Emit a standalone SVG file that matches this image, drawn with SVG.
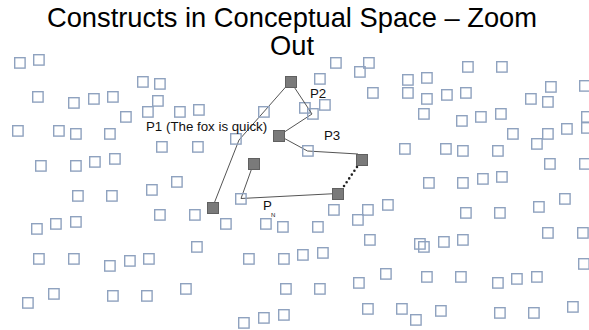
<svg xmlns="http://www.w3.org/2000/svg" xmlns:xlink="http://www.w3.org/1999/xlink" width="589" height="330" viewBox="0 0 589 330">
  <style>
    .c { fill: none; stroke: #8fa2bf; stroke-width: 1.4; }
    .f { fill: #7a7a7a; stroke: #606060; stroke-width: 1; }
    .ln { stroke: #555; stroke-width: 1; fill: none; }
    .dots { stroke: #222; stroke-width: 2.6; stroke-dasharray: 0 4.6; stroke-linecap: round; fill: none; }
    .title { font-family: "Liberation Sans", Arial, sans-serif; font-size: 27.3px; fill: #000; text-anchor: middle; }
    .lbl { font-family: "Liberation Sans", Arial, sans-serif; font-size: 13.3px; fill: #111; }
    .sub { font-family: "Liberation Sans", Arial, sans-serif; font-size: 6px; fill: #111; }
  </style>
  <defs>
    <rect id="sq" x="0.7" y="0.7" width="10.4" height="10.4" class="c"/>
    <rect id="fsq" x="0.5" y="0.5" width="11" height="11" class="f"/>
  </defs>
  <rect width="589" height="330" fill="#fff"/>

  <!-- heading -->
  <g id="title">
    <text class="title" x="292" y="27">Constructs in Conceptual Space – Zoom</text>
    <text class="title" x="292" y="54.5">Out</text>
  </g>

  <!-- scattered constructs -->
  <g id="field">
    <use id="c1" href="#sq" x="14" y="57"/>
    <use id="c2" href="#sq" x="33" y="54"/>
    <use id="c3" href="#sq" x="137" y="76"/>
    <use id="c4" href="#sq" x="154" y="78"/>
    <use id="c5" href="#sq" x="32" y="91"/>
    <use id="c6" href="#sq" x="68" y="97"/>
    <use id="c7" href="#sq" x="88" y="93"/>
    <use id="c8" href="#sq" x="107" y="91"/>
    <use id="c9" href="#sq" x="152" y="95"/>
    <use id="c10" href="#sq" x="142" y="106"/>
    <use id="c11" href="#sq" x="174" y="106"/>
    <use id="c12" href="#sq" x="193" y="104"/>
    <use id="c13" href="#sq" x="120" y="111"/>
    <use id="c15" href="#sq" x="330" y="57"/>
    <use id="c16" href="#sq" x="363" y="57"/>
    <use id="c17" href="#sq" x="354" y="66"/>
    <use id="c18" href="#sq" x="314" y="73"/>
    <use id="c19" href="#sq" x="367" y="87"/>
    <use id="c20" href="#sq" x="299" y="102"/>
    <use id="c22" href="#sq" x="319" y="99"/>
    <use id="c23" href="#sq" x="462" y="61"/>
    <use id="c24" href="#sq" x="496" y="61"/>
    <use id="c25" href="#sq" x="402" y="74"/>
    <use id="c26" href="#sq" x="421" y="72"/>
    <use id="c27" href="#sq" x="402" y="87"/>
    <use id="c28" href="#sq" x="421" y="93"/>
    <use id="c29" href="#sq" x="441" y="89"/>
    <use id="c30" href="#sq" x="460" y="87"/>
    <use id="c31" href="#sq" x="545" y="81"/>
    <use id="c32" href="#sq" x="579" y="80"/>
    <use id="c33" href="#sq" x="525" y="93"/>
    <use id="c34" href="#sq" x="542" y="96"/>
    <use id="c35" href="#sq" x="418" y="108"/>
    <use id="c36" href="#sq" x="456" y="115"/>
    <use id="c37" href="#sq" x="475" y="111"/>
    <use id="c38" href="#sq" x="495" y="108"/>
    <use id="c39" href="#sq" x="581" y="111"/>
    <use id="c40" href="#sq" x="581" y="122"/>
    <use id="c41" href="#sq" x="507" y="128"/>
    <use id="c42" href="#sq" x="542" y="128"/>
    <use id="c43" href="#sq" x="561" y="123"/>
    <use id="c44" href="#sq" x="531" y="138"/>
    <use id="c45" href="#sq" x="399" y="143"/>
    <use id="c46" href="#sq" x="440" y="143"/>
    <use id="c47" href="#sq" x="457" y="145"/>
    <use id="c48" href="#sq" x="492" y="145"/>
    <use id="c49" href="#sq" x="544" y="158"/>
    <use id="c50" href="#sq" x="579" y="158"/>
    <use id="c51" href="#sq" x="423" y="177"/>
    <use id="c52" href="#sq" x="457" y="177"/>
    <use id="c53" href="#sq" x="477" y="173"/>
    <use id="c54" href="#sq" x="496" y="171"/>
    <use id="c55" href="#sq" x="382" y="199"/>
    <use id="c56" href="#sq" x="559" y="193"/>
    <use id="c57" href="#sq" x="533" y="201"/>
    <use id="c58" href="#sq" x="460" y="207"/>
    <use id="c59" href="#sq" x="494" y="207"/>
    <use id="c60" href="#sq" x="542" y="227"/>
    <use id="c61" href="#sq" x="577" y="227"/>
    <use id="c62" href="#sq" x="414" y="238"/>
    <use id="c63" href="#sq" x="418" y="241"/>
    <use id="c64" href="#sq" x="438" y="236"/>
    <use id="c65" href="#sq" x="457" y="234"/>
    <use id="c66" href="#sq" x="578" y="258"/>
    <use id="c67" href="#sq" x="380" y="268"/>
    <use id="c68" href="#sq" x="421" y="271"/>
    <use id="c69" href="#sq" x="455" y="271"/>
    <use id="c70" href="#sq" x="492" y="277"/>
    <use id="c71" href="#sq" x="511" y="273"/>
    <use id="c72" href="#sq" x="531" y="271"/>
    <use id="c73" href="#sq" x="396" y="303"/>
    <use id="c74" href="#sq" x="410" y="314"/>
    <use id="c75" href="#sq" x="435" y="305"/>
    <use id="c76" href="#sq" x="494" y="307"/>
    <use id="c77" href="#sq" x="528" y="307"/>
    <use id="c78" href="#sq" x="567" y="301"/>
    <use id="c79" href="#sq" x="12" y="125"/>
    <use id="c80" href="#sq" x="53" y="125"/>
    <use id="c81" href="#sq" x="70" y="128"/>
    <use id="c82" href="#sq" x="104" y="128"/>
    <use id="c83" href="#sq" x="156" y="141"/>
    <use id="c84" href="#sq" x="192" y="141"/>
    <use id="c85" href="#sq" x="35" y="160"/>
    <use id="c86" href="#sq" x="70" y="160"/>
    <use id="c87" href="#sq" x="89" y="156"/>
    <use id="c88" href="#sq" x="109" y="153"/>
    <use id="c89" href="#sq" x="146" y="184"/>
    <use id="c90" href="#sq" x="171" y="176"/>
    <use id="c91" href="#sq" x="72" y="190"/>
    <use id="c92" href="#sq" x="106" y="190"/>
    <use id="c93" href="#sq" x="154" y="209"/>
    <use id="c94" href="#sq" x="189" y="209"/>
    <use id="c95" href="#sq" x="31" y="223"/>
    <use id="c96" href="#sq" x="50" y="218"/>
    <use id="c97" href="#sq" x="70" y="216"/>
    <use id="c98" href="#sq" x="191" y="241"/>
    <use id="c99" href="#sq" x="33" y="253"/>
    <use id="c100" href="#sq" x="68" y="253"/>
    <use id="c101" href="#sq" x="104" y="260"/>
    <use id="c102" href="#sq" x="124" y="255"/>
    <use id="c103" href="#sq" x="143" y="253"/>
    <use id="c104" href="#sq" x="22" y="297"/>
    <use id="c105" href="#sq" x="48" y="288"/>
    <use id="c106" href="#sq" x="107" y="290"/>
    <use id="c107" href="#sq" x="141" y="290"/>
    <use id="c108" href="#sq" x="180" y="283"/>
    <use id="c112" href="#sq" x="328" y="204"/>
    <use id="c113" href="#sq" x="362" y="204"/>
    <use id="c114" href="#sq" x="352" y="214"/>
    <use id="c115" href="#sq" x="220" y="218"/>
    <use id="c116" href="#sq" x="260" y="218"/>
    <use id="c117" href="#sq" x="277" y="221"/>
    <use id="c118" href="#sq" x="312" y="221"/>
    <use id="c119" href="#sq" x="364" y="234"/>
    <use id="c120" href="#sq" x="243" y="253"/>
    <use id="c121" href="#sq" x="278" y="253"/>
    <use id="c122" href="#sq" x="297" y="249"/>
    <use id="c123" href="#sq" x="317" y="247"/>
    <use id="c124" href="#sq" x="353" y="277"/>
    <use id="c125" href="#sq" x="280" y="283"/>
    <use id="c126" href="#sq" x="314" y="283"/>
    <use id="c127" href="#sq" x="362" y="303"/>
    <use id="c128" href="#sq" x="238" y="317"/>
    <use id="c129" href="#sq" x="258" y="312"/>
    <use id="c130" href="#sq" x="278" y="309"/>
  </g>

  <!-- links between constructs -->
  <g id="connectors">
    <polyline class="ln" points="212.5,207.5 239,140 290.5,81.5 312,114 279,135.5 307.5,151 358,154"/>
    <line class="dots" x1="357" y1="167" x2="343" y2="187.5"/>
    <polyline class="ln" points="337.5,193.5 241,198.5 253.5,163.5"/>
  </g>

  <!-- constructs on the paths -->
  <g id="n-a"><use href="#sq" x="230" y="133"/></g>
  <g id="n-b"><use href="#sq" x="258" y="106"/></g>
  <g id="n-c"><use href="#sq" x="307" y="108"/></g>
  <g id="n-d"><use href="#sq" x="302" y="145"/></g>
  <g id="n-e"><use href="#sq" x="235" y="193"/></g>
  <g id="n-p2"><use href="#fsq" x="285" y="76"/></g>
  <g id="n-p3"><use href="#fsq" x="273" y="130"/></g>
  <g id="n-f"><use href="#fsq" x="356" y="154"/></g>
  <g id="n-g"><use href="#fsq" x="332" y="188"/></g>
  <g id="n-h"><use href="#fsq" x="248" y="158"/></g>
  <g id="n-p1"><use href="#fsq" x="207" y="202"/></g>

  <!-- path labels -->
  <g id="labels">
    <text class="lbl" x="146" y="131">P1 (The fox is quick)</text>
    <text class="lbl" x="310" y="98">P2</text>
    <text class="lbl" x="324" y="140">P3</text>
    <text class="lbl" x="263" y="210">P</text>
    <text class="sub" x="271" y="216.5">N</text>
  </g>
</svg>
